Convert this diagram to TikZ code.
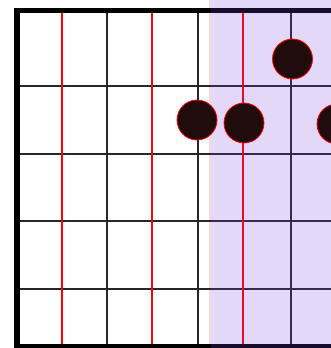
\documentclass[tikz,border=0pt]{standalone}
\begin{document}
\begin{tikzpicture}[x=1pt,y=-1pt,
  gridline/.style={line width=1.6pt,draw=black!85},
  redline/.style={line width=2.5pt,draw=red},
  border/.style={line width=5.5pt,draw=black},
  stone/.style={circle,minimum size=40pt,inner sep=0pt,fill={rgb,255:red,32;green,12;blue,12},draw=red,line width=0.8pt}
]
\definecolor{veil}{RGB}{120,60,220}
\definecolor{edgepink}{RGB}{255,214,214}
\useasboundingbox (0,0) rectangle (331,348);
% pink edge of the shaded region (behind the lines)
\fill[edgepink] (209.3,0) rectangle (210.7,348);
% grid lines
\foreach \x in {107,198,291} \draw[gridline] (\x,11) -- (\x,346);
\foreach \y in {86,154,221,289} \draw[gridline] (17,\y) -- (331,\y);
\foreach \x in {62,152,243} \draw[redline] (\x,11) -- (\x,346);
% border
\draw[border,line cap=rect] (331,10.5) -- (17,10.5) -- (17,346.5) -- (331,346.5);
% shaded region
\fill[veil,opacity=0.2] (210.7,0) rectangle (331,348);
% stones
\node[stone] (s1) at (197,120) {};
\node[stone] (s2) at (244,123) {};
\node[stone] (s3) at (292.5,59) {};
\node[stone] (s4) at (337,124) {};
\end{tikzpicture}
\end{document}
